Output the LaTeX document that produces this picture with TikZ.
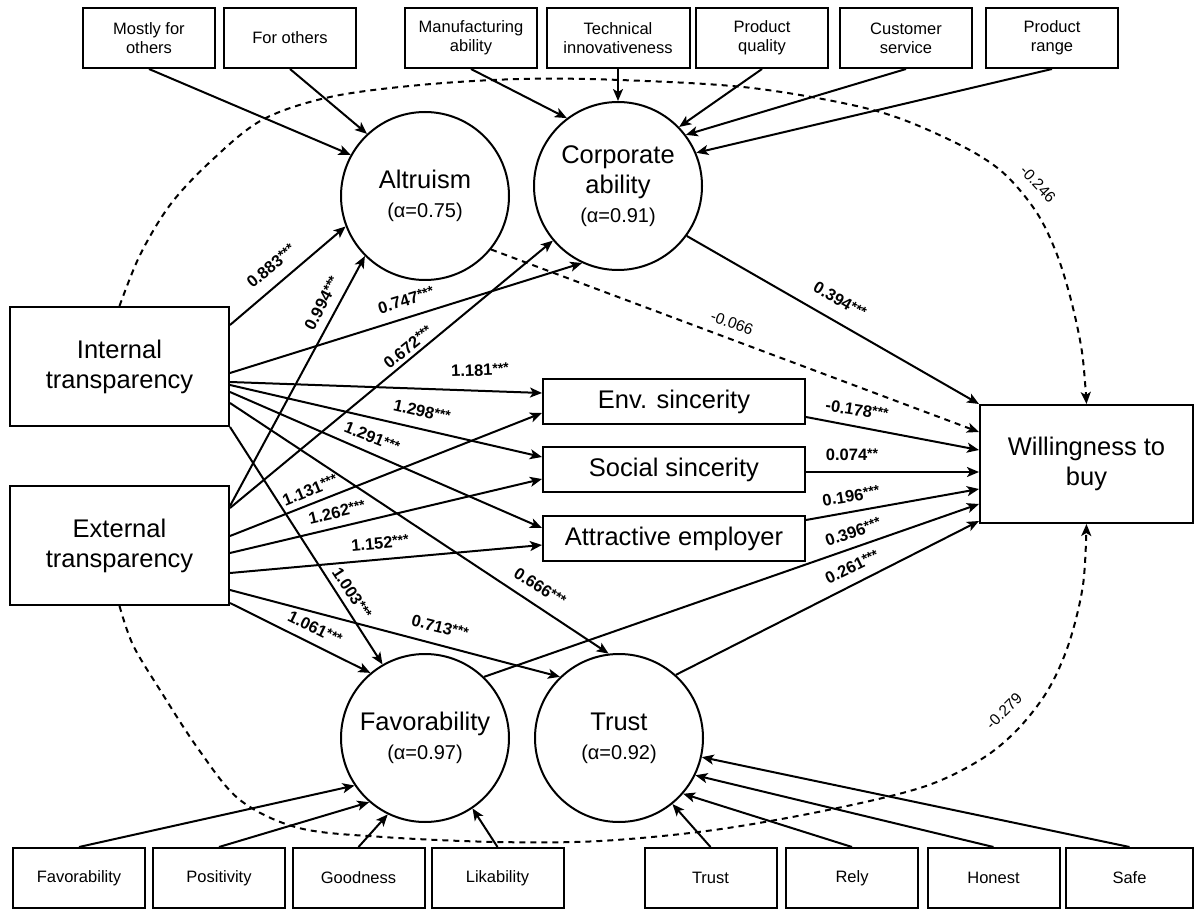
\documentclass[tikz,border=0pt]{standalone}
\usepackage{fontspec}
\setmainfont{Liberation Sans}
\usetikzlibrary{arrows.meta,calc}
\newcommand\smallfnt{\fontsize{16.5}{19}\selectfont}
\newcommand\bigfnt{\fontsize{25.5}{30}\selectfont}
\newcommand\alphfnt{\fontsize{20}{23}\selectfont}
\newcommand\lblfnt{\fontsize{16.5}{18}\selectfont\bfseries}
\newcommand\stars[1]{\raisebox{2.2pt}{\fontsize{14}{15}\selectfont #1}}
\tikzset{
 ind/.style={draw, line width=2pt, rectangle, minimum width=132pt, minimum height=60pt, inner sep=0pt, align=center, font=\smallfnt},
 bigbox/.style={draw, line width=2pt, minimum width=219pt, minimum height=119pt, inner sep=0pt, align=center, font=\bigfnt},
 midbox/.style={draw, line width=2pt, minimum width=262pt, minimum height=45pt, inner sep=0pt, font=\bigfnt},
 lat/.style={draw, circle, line width=2pt, minimum size=168pt, inner sep=0pt, align=center, font=\bigfnt},
 arr/.style={line width=2pt, -{Stealth[length=12pt,width=10pt,inset=3pt]}},
 darr/.style={arr, dash pattern=on 6pt off 5pt},
 lbl/.style={font=\lblfnt, inner sep=0pt},
 dlbl/.style={font=\fontsize{15.5}{17}\selectfont, inner sep=0pt},
}
\begin{document}
\begin{tikzpicture}[x=1pt,y=-1pt]
\useasboundingbox (0,0) rectangle (1195,909);
% top indicators
\node[ind] (mostly) at (149,38) {Mostly for\\others};
\node[ind] (forot) at (290,38) {For others};
\node[ind] (manu) at (471,38) {Manufacturing\\ability};
\node[ind, minimum width=143pt] (tech) at (618,38) {Technical\\innovativeness};
\node[ind] (pq) at (762,38) {Product\\quality};
\node[ind] (cs) at (906,38) {Customer\\service};
\node[ind] (pr) at (1052,38) {Product\\range};
% bottom indicators
\node[ind] (bfav) at (79,878) {Favorability};
\node[ind] (bpos) at (219,878) {Positivity};
\node[ind] (bgood) at (358.5,878) {Goodness};
\node[ind] (blik) at (497.5,878) {Likability};
\node[ind] (btru) at (710.5,878) {Trust};
\node[ind] (brel) at (852,878) {Rely};
\node[ind] (bhon) at (993.5,878) {Honest};
\node[ind, minimum width=127pt] (bsafe) at (1129.5,878) {Safe};
% big boxes
\node[bigbox] (int) at (119.5,366.5) {Internal\\transparency};
\node[bigbox] (ext) at (119.5,545.5) {External\\transparency};
\node[bigbox, minimum width=213pt, minimum height=118pt] (wtb) at (1086.5,464) {Willingness to\\buy};
% middle boxes
\node[midbox] (env) at (674,402) {Env. sincerity};
\node[midbox] (soc) at (674,469.5) {Social sincerity};
\node[midbox] (att) at (674,538.5) {Attractive employer};
% latent circles
\node[lat] (alt) at (425,196) {Altruism\\[-1pt]{\alphfnt(α=0.75)}};
\node[lat] (corp) at (618,186) {Corporate\\ability\\[-1pt]{\alphfnt(α=0.91)}};
\node[lat] (fav) at (425,738) {Favorability\\[-1pt]{\alphfnt(α=0.97)}};
\node[lat] (tru) at (619,738) {Trust\\[-1pt]{\alphfnt(α=0.92)}};
% indicator arrows
\draw[arr] (mostly.south) -- (alt.151);
\draw[arr] (forot.south) -- (alt.133);
\draw[arr] (manu.south) -- (corp.127);
\draw[arr] (tech.south) -- (corp.north);
\draw[arr] (pq.south) -- (corp.44);
\draw[arr] (cs.south) -- (corp.37);
\draw[arr] (pr.south) -- (corp.23);
\draw[arr] (bfav.north) -- (fav.214);
\draw[arr] (bpos.north) -- (fav.229);
\draw[arr] (bgood.north) -- (fav.244);
\draw[arr] (blik.north) -- (fav.304);
\draw[arr] (btru.north) -- (tru.309);
\draw[arr] (brel.north) -- (tru.319);
\draw[arr] (bhon.north) -- (tru.334);
\draw[arr] (bsafe.north) -- (tru.347);
% internal transparency paths
\draw[arr] ([yshift=41.5pt]int.east) -- (alt.201);
\draw[arr] ([yshift=-6.5pt]int.east) -- (corp.245);
\draw[arr] ([yshift=-15.5pt]int.east) -- ([yshift=9pt]env.west);
\draw[arr] ([yshift=-18.5pt]int.east) -- ([yshift=12.5pt]soc.west);
\draw[arr] ([yshift=-25.5pt]int.east) -- ([yshift=10.5pt]att.west);
\draw[arr] ([yshift=-36.5pt]int.east) -- (tru.97);
\draw[arr] (int.south east) -- (fav.120);
% external transparency paths
\draw[arr] ([yshift=39.5pt]ext.east) -- (alt.225);
\draw[arr] ([yshift=37.5pt]ext.east) -- (corp.220);
\draw[arr] ([yshift=9.5pt]ext.east) -- ([yshift=-11pt]env.west);
\draw[arr] ([yshift=-7.5pt]ext.east) -- ([yshift=-9.5pt]soc.west);
\draw[arr] ([yshift=-27.5pt]ext.east) -- ([yshift=-6.5pt]att.west);
\draw[arr] ([yshift=-44.5pt]ext.east) -- (tru.134);
\draw[arr] ([yshift=-57.5pt]ext.east) -- (fav.130);
% to willingness
\draw[arr] (corp.324) -- (wtb.north west);
\draw[darr] (alt.321) -- ([yshift=32pt]wtb.west);
\draw[arr] ([yshift=-15pt]env.east) -- ([yshift=14pt]wtb.west);
\draw[arr] ([yshift=-2.5pt]soc.east) -- ([yshift=-8pt]wtb.west);
\draw[arr] ([yshift=18.5pt]att.east) -- ([yshift=-25pt]wtb.west);
\draw[arr] (fav.46) -- ([yshift=-40pt]wtb.west);
\draw[arr] (tru.48) -- ([yshift=-57pt]wtb.west);
% dashed covariance curves
\draw[darr] plot[smooth, tension=0.55] coordinates {(int.north) (140,255) (170,205) (210,162) (262,120) (330,97) (420,85) (520,79) (620,80) (752,88) (873,110) (950,140) (1000,170) (1035,210) (1056,252) (1071,300) (1082,352) (wtb.north)};
\draw[darr] plot[smooth, tension=0.55] coordinates {(ext.south) (133,645) (160,690) (199,750) (240,800) (299,828) (383,837) (497,842) (600,841) (714,830) (828,810) (923,787) (980,760) (1017,730) (1048,690) (1069,643) (1083,585) (wtb.south)};
% labels
\node[lbl, rotate=40] at (271,266) {0.883\stars{***}};
\node[lbl, rotate=62] at (322,303) {0.994\stars{***}};
\node[lbl, rotate=17] at (406,300) {0.747\stars{***}};
\node[lbl, rotate=39] at (408,347) {0.672\stars{***}};
\node[lbl, rotate=2] at (480,370) {1.181\stars{***}};
\node[lbl, rotate=-13] at (422,411) {1.298\stars{***}};
\node[lbl, rotate=-22] at (372,437) {1.291\stars{***}};
\node[lbl, rotate=22] at (310,490) {1.131\stars{***}};
\node[lbl, rotate=13] at (337,512) {1.262\stars{***}};
\node[lbl, rotate=5] at (380,543) {1.152\stars{***}};
\node[lbl, rotate=-57] at (352,593) {1.003\stars{***}};
\node[lbl, rotate=-33] at (540,587) {0.666\stars{***}};
\node[lbl, rotate=-26] at (315,628) {1.061\stars{***}};
\node[lbl, rotate=-14] at (440,627) {0.713\stars{***}};
\node[lbl, rotate=-30] at (840,300) {0.394\stars{***}};
\node[dlbl, rotate=-20] at (732,323) {-0.066};
\node[lbl, rotate=-9] at (857,410) {-0.178\stars{***}};
\node[lbl] at (852,455) {0.074\stars{**}};
\node[lbl, rotate=9] at (851,496) {0.196\stars{***}};
\node[lbl, rotate=19] at (853,532) {0.396\stars{***}};
\node[lbl, rotate=26] at (852,567) {0.261\stars{***}};
\node[dlbl, rotate=-47] at (1038,184) {-0.246};
\node[dlbl, rotate=45] at (1004,711) {-0.279};
\end{tikzpicture}
\end{document}
